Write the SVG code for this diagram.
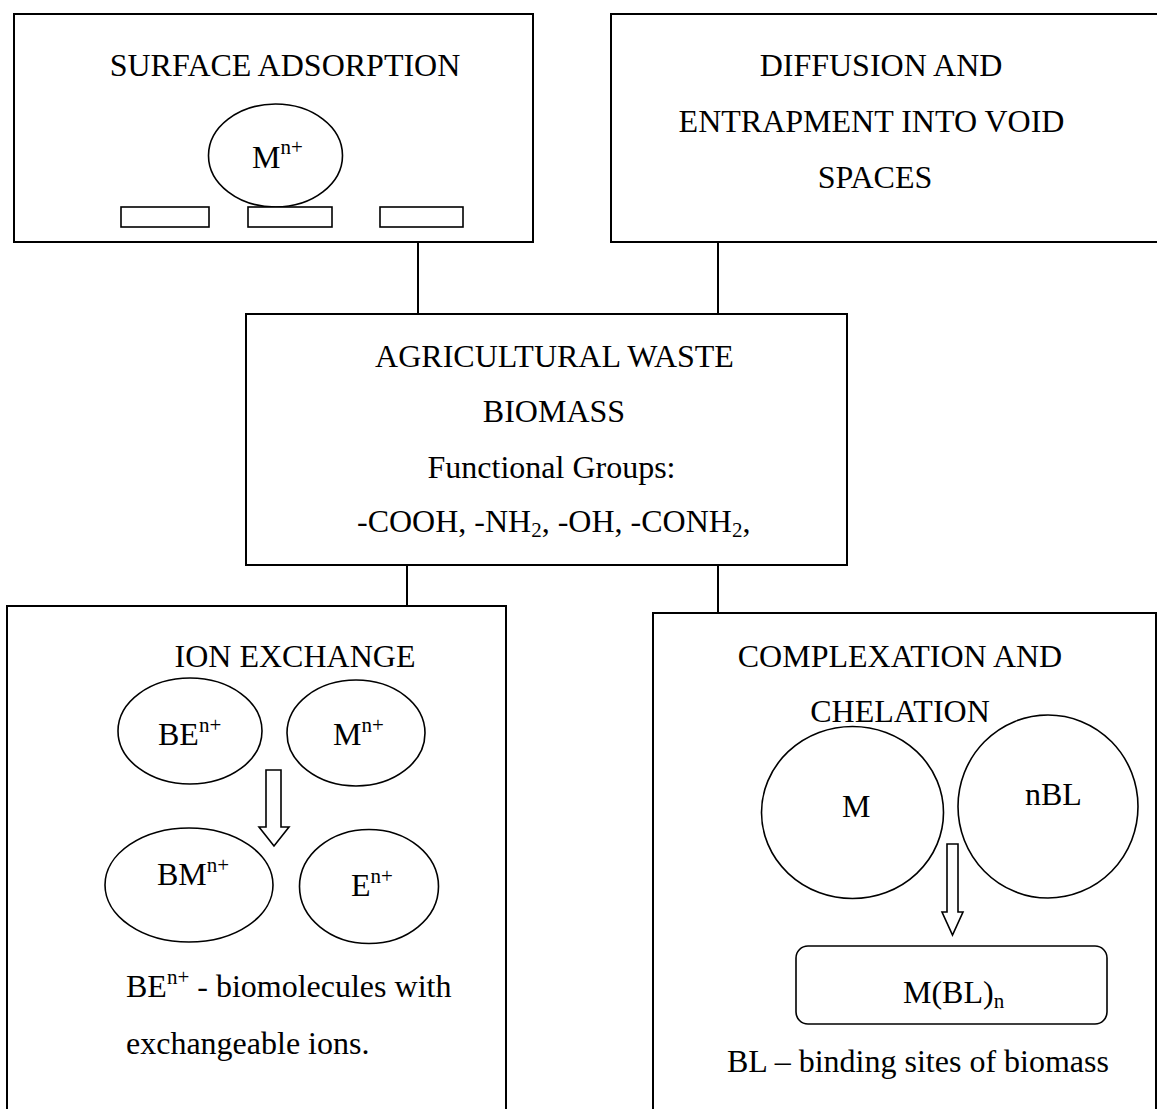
<svg xmlns="http://www.w3.org/2000/svg" width="1157" height="1109" viewBox="0 0 1157 1109">
<style>
.box{fill:none;stroke:#000;stroke-width:2}
.shape{fill:#fff;stroke:#000;stroke-width:1.6}
.conn{fill:none;stroke:#000;stroke-width:2}
text{font-family:"Liberation Serif","Times New Roman",serif;font-size:32px;fill:#000}
.sup{font-size:21px}
.mid{text-anchor:middle}
</style>
<rect width="1157" height="1109" fill="#fff"/>
<g id="connectors">
<path class="conn" d="M418,242 V314"/>
<path class="conn" d="M718,242 V314"/>
<path class="conn" d="M407,565 V606"/>
<path class="conn" d="M718,565 V613"/>
</g>
<g id="surface-adsorption">
<rect class="box" x="14" y="14" width="519" height="228"/>
<text class="mid" x="285" y="76">SURFACE ADSORPTION</text>
<ellipse class="shape" cx="275.5" cy="155.5" rx="67" ry="51.5"/>
<text x="252" y="168">M<tspan class="sup" dy="-14">n+</tspan></text>
<rect class="shape" x="121" y="207" width="88" height="20"/>
<rect class="shape" x="248" y="207" width="84" height="20"/>
<rect class="shape" x="380" y="207" width="83" height="20"/>
</g>
<g id="diffusion">
<rect class="box" x="611" y="14" width="560" height="228"/>
<text class="mid" x="881" y="76">DIFFUSION AND</text>
<text class="mid" x="871.5" y="132">ENTRAPMENT INTO VOID</text>
<text class="mid" x="875" y="188">SPACES</text>
</g>
<g id="biomass">
<rect class="box" x="246" y="314" width="601" height="251"/>
<text class="mid" x="554.5" y="367">AGRICULTURAL WASTE</text>
<text class="mid" x="554" y="422">BIOMASS</text>
<text class="mid" x="551.5" y="478">Functional Groups:</text>
<text x="357" y="532">-COOH, -NH<tspan class="sup" dy="5">2</tspan><tspan dy="-5">, -OH, -CONH</tspan><tspan class="sup" dy="5">2</tspan><tspan dy="-5">,</tspan></text>
</g>
<g id="ion-exchange">
<rect class="box" x="7" y="606" width="499" height="600"/>
<text class="mid" x="295" y="667">ION EXCHANGE</text>
<ellipse class="shape" cx="190" cy="731" rx="72" ry="53"/>
<text x="158" y="745">BE<tspan class="sup" dy="-13">n+</tspan></text>
<ellipse class="shape" cx="356" cy="733" rx="69" ry="53"/>
<text x="333" y="745">M<tspan class="sup" dy="-13">n+</tspan></text>
<ellipse class="shape" cx="189" cy="885" rx="84" ry="57"/>
<text x="157" y="885">BM<tspan class="sup" dy="-13">n+</tspan></text>
<ellipse class="shape" cx="369" cy="886.5" rx="69.5" ry="57"/>
<text x="351" y="896">E<tspan class="sup" dy="-13">n+</tspan></text>
<path class="shape" d="M266,770 H281 V827 H289 L274,846 L259,827 H266 Z"/>
<text x="126" y="997">BE<tspan class="sup" dy="-13">n+</tspan><tspan dy="13"> - biomolecules with</tspan></text>
<text x="126" y="1054">exchangeable ions.</text>
</g>
<g id="complexation">
<rect class="box" x="653" y="613" width="503" height="600"/>
<text class="mid" x="900" y="667">COMPLEXATION AND</text>
<text class="mid" x="900" y="722">CHELATION</text>
<ellipse class="shape" cx="852.5" cy="812.5" rx="91" ry="86"/>
<text x="842" y="817">M</text>
<ellipse class="shape" cx="1048" cy="806.5" rx="90" ry="91.5"/>
<text x="1025" y="805">nBL</text>
<path class="shape" d="M947,844 H958 V912 H963 L952.5,935 L942,912 H947 Z"/>
<rect class="shape" x="796" y="946" width="311" height="78" rx="12"/>
<text x="903" y="1003">M(BL)<tspan class="sup" dy="5">n</tspan></text>
<text x="727" y="1072">BL – binding sites of biomass</text>
</g>
</svg>
